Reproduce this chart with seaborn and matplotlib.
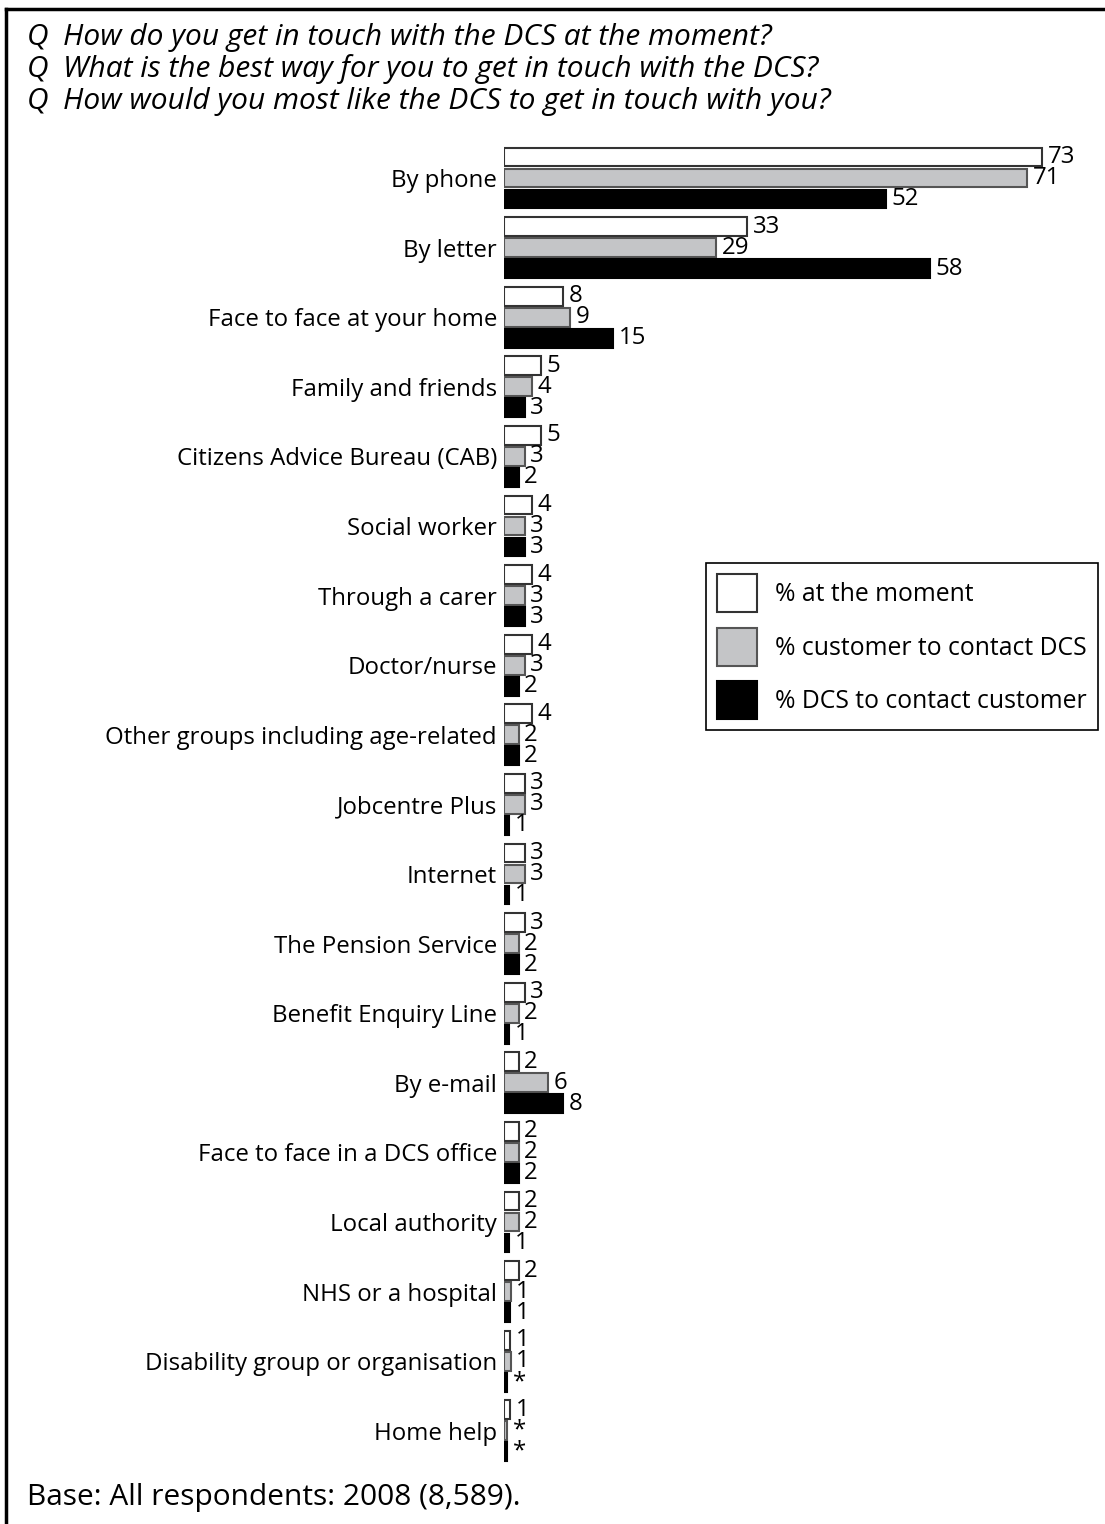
import matplotlib
matplotlib.use("Agg")
import matplotlib.pyplot as plt
import seaborn as sns
import pandas as pd
from matplotlib.lines import Line2D

# Channels, in chart order (top to bottom)
channels = [
    "By phone", "By letter", "Face to face at your home", "Family and friends",
    "Citizens Advice Bureau (CAB)", "Social worker", "Through a carer",
    "Doctor/nurse", "Other groups including age-related", "Jobcentre Plus",
    "Internet", "The Pension Service", "Benefit Enquiry Line", "By e-mail",
    "Face to face in a DCS office", "Local authority", "NHS or a hospital",
    "Disability group or organisation", "Home help",
]

series = ["% at the moment", "% customer to contact DCS", "% DCS to contact customer"]

# bar lengths and the printed labels
at_moment = [73, 33, 8, 5.0, 5.0, 3.8, 3.8, 3.8, 3.8, 2.8, 2.8, 2.8, 2.8, 2.0, 2.0, 2.0, 2.0, 0.8, 0.8]
cust_to_dcs = [71, 28.8, 9, 3.8, 2.8, 2.8, 2.8, 2.8, 2.0, 2.8, 2.8, 2.0, 2.0, 6.0, 2.0, 2.0, 0.9, 0.9, 0.4]
dcs_to_cust = [51.8, 57.8, 14.8, 2.8, 2.0, 2.8, 2.8, 2.0, 2.0, 0.7, 0.7, 2.0, 0.7, 8.0, 2.0, 0.7, 0.8, 0.4, 0.4]

lab_moment = ["73", "33", "8", "5", "5", "4", "4", "4", "4", "3", "3", "3", "3", "2", "2", "2", "2", "1", "1"]
lab_cust = ["71", "29", "9", "4", "3", "3", "3", "3", "2", "3", "3", "2", "2", "6", "2", "2", "1", "1", "*"]
lab_dcs = ["52", "58", "15", "3", "2", "3", "3", "2", "2", "1", "1", "2", "1", "8", "2", "1", "1", "*", "*"]

questions = [
    "How do you get in touch with the DCS at the moment?",
    "What is the best way for you to get in touch with the DCS?",
    "How would you most like the DCS to get in touch with you?",
]
base_note = "Base: All respondents: 2008 (8,589)."

colors = ["#ffffff", "#c4c5c7", "#000000"]
edges = ["#333333", "#555555", "#000000"]

df = pd.DataFrame({
    "channel": channels * 3,
    "series": [s for s in series for _ in channels],
    "value": at_moment + cust_to_dcs + dcs_to_cust,
})

FS = 17.3
plt.rcParams["font.family"] = ["Open Sans", "DejaVu Sans"]

fig = plt.figure(figsize=(11.05, 15.24), dpi=100)
W, H = 1105, 1524
step = 69.6
top_px, bot_px = 140, 1470
ax = fig.add_axes([504 / W, 1 - bot_px / H, (1100 - 504) / W, (bot_px - top_px) / H])

sns.barplot(data=df, x="value", y="channel", hue="series", order=channels,
            hue_order=series, palette=colors, orient="h", width=0.905, gap=0.1,
            linewidth=1.5, edgecolor="black", ax=ax, legend=False)

for cont, ec, labs in zip(ax.containers, edges, [lab_moment, lab_cust, lab_dcs]):
    for p in cont.patches:
        p.set_edgecolor(ec)
    ax.bar_label(cont, labels=labs, padding=4, fontsize=FS, color="black")

ax.set_xlim(0, (1100 - 504) / 7.37)
ax.set_ylim((bot_px - 178) / step, (top_px - 178) / step)
ax.set_xlabel("")
ax.set_ylabel("")
ax.xaxis.set_visible(False)
ax.tick_params(axis="y", length=0, pad=5, labelsize=FS)
for s in ax.spines.values():
    s.set_visible(False)

# legend
handles = [plt.Rectangle((0, 0), 1, 1, facecolor=c, edgecolor=e, linewidth=1.5)
           for c, e in zip(colors, edges)]
leg = fig.legend(handles, series, loc="upper left",
                 bbox_to_anchor=(706 / W, 1 - 563 / H), fontsize=17.8,
                 frameon=True, fancybox=False, edgecolor="black", framealpha=1,
                 handlelength=1.6, handleheight=2.0, labelspacing=0.62,
                 handletextpad=0.75, borderpad=0.45, borderaxespad=0)
leg.get_frame().set_linewidth(1.2)

# questions
for i, q in enumerate(questions):
    y = 1 - (37 + 32 * i) / H
    fig.text(27 / W, y, "Q", fontsize=21.5, style="italic", va="center")
    fig.text(63 / W, y, q, fontsize=21.5, style="italic", va="center")

fig.text(27 / W, 1 - 1497 / H, base_note, fontsize=21.5, va="center")

# frame lines
fig.add_artist(Line2D([6 / W, 1], [1 - 9 / H, 1 - 9 / H], color="black", linewidth=2.5))
fig.add_artist(Line2D([6 / W, 6 / W], [0, 1 - 9 / H], color="black", linewidth=2.5))

fig.savefig("out.png", dpi=100)
